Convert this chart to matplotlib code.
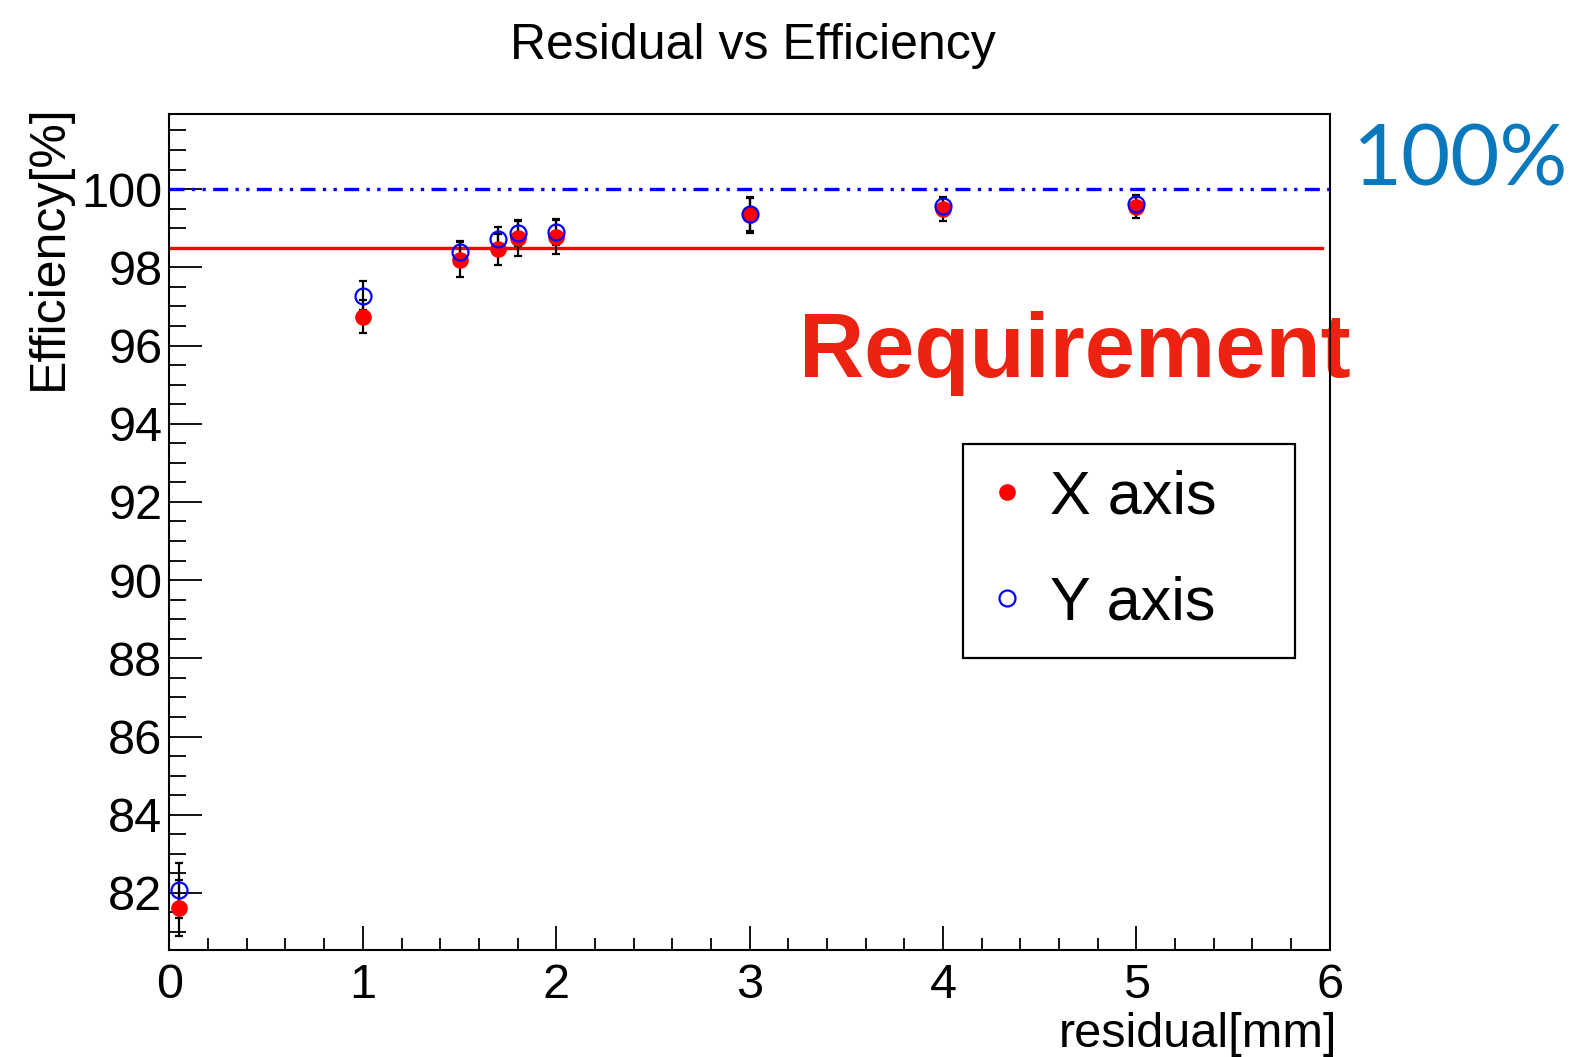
import numpy as np
import matplotlib
matplotlib.use("Agg")
import matplotlib.pyplot as plt
from matplotlib.ticker import MultipleLocator

plt.rcParams['font.family'] = ['Liberation Sans', 'DejaVu Sans']

# residual cut [mm] and efficiency [%] for both strip directions
residual = [0.05, 1.0, 1.5, 1.7, 1.8, 2.0, 3.0, 4.0, 5.0]
eff_x = [81.61, 96.74, 98.20, 98.46, 98.74, 98.78, 99.34, 99.49, 99.55]
err_x = [0.72, 0.42, 0.44, 0.40, 0.44, 0.43, 0.46, 0.30, 0.30]
eff_y = [82.07, 97.27, 98.38, 98.72, 98.88, 98.91, 99.36, 99.57, 99.61]
err_y = [0.70, 0.37, 0.30, 0.31, 0.33, 0.33, 0.42, 0.20, 0.20]

requirement = 98.5
full_eff = 100.0

fig = plt.figure(figsize=(15.82, 10.57), dpi=100)
ax = fig.add_axes([0.1071, 0.1012, 0.7335, 0.7909])

# error bars first, markers on top
ax.errorbar(residual, eff_x, yerr=err_x, fmt='none', ecolor='black',
            elinewidth=1.6, capsize=2.8, capthick=1.6, zorder=3)
ax.errorbar(residual, eff_y, yerr=err_y, fmt='none', ecolor='black',
            elinewidth=1.6, capsize=2.8, capthick=1.6, zorder=3)
hx, = ax.plot(residual, eff_x, 'o', color='red', markersize=12,
              markeredgewidth=0, linestyle='none', zorder=4, label='X axis')
hy, = ax.plot(residual, eff_y, 'o', markerfacecolor='none', markeredgecolor='blue',
              markersize=11.5, markeredgewidth=1.6, linestyle='none', zorder=5,
              label='Y axis')

ax.plot([0, 5.96], [requirement, requirement], color='red', lw=2.4, zorder=2)
ax.plot([0, 6], [full_eff, full_eff], color='blue', lw=2.4, zorder=2,
        dashes=(4.5, 2.2, 1, 2.2, 1, 2.2), dash_capstyle='butt')

ax.set_xlim(0, 6)
ax.set_ylim(80.54, 101.92)

ax.xaxis.set_major_locator(MultipleLocator(1))
ax.xaxis.set_minor_locator(MultipleLocator(0.2))
ax.yaxis.set_major_locator(MultipleLocator(2))
ax.yaxis.set_minor_locator(MultipleLocator(0.5))
ax.tick_params(which='both', direction='in', top=False, right=False,
               width=1.3, labelsize=35)
ax.tick_params(axis='y', which='major', length=24, pad=5)
ax.tick_params(axis='y', which='minor', length=12)
ax.tick_params(axis='x', which='major', length=17, pad=9)
ax.tick_params(axis='x', which='minor', length=8.5)
for s in ax.spines.values():
    s.set_linewidth(1.5)
    s.set_zorder(6)

ax.set_xlabel('residual[mm]', fontsize=35, loc='right')
ax.xaxis.set_label_coords(1.006, -0.074)
ax.set_ylabel('Efficiency[%]', fontsize=36, loc='top')
ax.yaxis.set_label_coords(-0.0845, 1.0115)

fig.text(0.476, 0.944, 'Residual vs Efficiency', fontsize=36,
         ha='center', va='baseline')

ax.text(799 / 1582, 1 - 377 / 1057, 'Requirement', transform=fig.transFigure,
        fontsize=65, fontweight='bold', color='#ee2211', va='baseline',
        ha='left', zorder=1)
fig.text(1352 / 1582, 1 - 185 / 1057, '100%', fontsize=61, color='#0a78bd',
         va='baseline', ha='left', family=['Lato', 'Liberation Sans'])

leg_top = 1 - 443.5 / 1057
leg = ax.legend(handles=[hx, hy], loc='upper left', fontsize=44,
                bbox_to_anchor=(963 / 1582, leg_top - 0.1, 332 / 1582, 0.1),
                bbox_transform=fig.transFigure, mode='expand', borderaxespad=0,
                borderpad=0.42, handlelength=0.6, handletextpad=0.4,
                labelspacing=0.8, fancybox=False, framealpha=1,
                edgecolor='black')
leg.get_frame().set_linewidth(1.6)

fig.savefig('out.png', dpi=100)
